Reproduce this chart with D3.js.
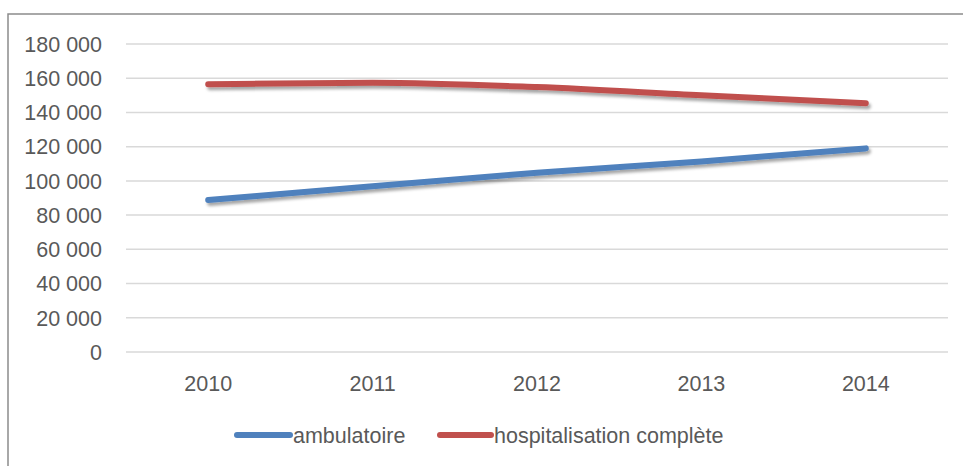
<!DOCTYPE html>
<html><head><meta charset="utf-8">
<script src="https://cdn.jsdelivr.net/npm/d3@7"></script>
<style>
html,body{margin:0;padding:0;background:#fff;}
svg{display:block;}
text{font-family:"Liberation Sans",Arial,sans-serif;fill:#595959;}
</style></head>
<body>
<script>
const years = ["2010","2011","2012","2013","2014"];
const ambulatoire = [88800, 96800, 104800, 111400, 119000];
const hospitalisation = [156500, 157400, 154800, 150000, 145400];
const yTicks = [0,20000,40000,60000,80000,100000,120000,140000,160000,180000];
const seriesNames = ["ambulatoire","hospitalisation complète"];
const seriesColors = ["#4f81bd","#c0504d"];

const W=963,H=466;
const svg=d3.select("body").append("svg").attr("width",W).attr("height",H);
const defs=svg.append("defs");
const f=defs.append("filter").attr("id","sh").attr("x","-10%").attr("y","-50%").attr("width","120%").attr("height","200%");
f.append("feDropShadow").attr("dx",2).attr("dy",3).attr("stdDeviation",1.8).attr("flood-color","#000").attr("flood-opacity",0.35);

// outer border
svg.append("path").attr("d","M8,470 L8,14 L970,14").attr("fill","none").attr("stroke","#8c8c8c").attr("stroke-width",1.5);

const x=d3.scaleBand().domain(years).range([126,948]);
const y=d3.scaleLinear().domain([0,180000]).range([352,44]);
const fmt=v=>d3.format(",")(v).replace(/,/g," ");

// gridlines
svg.append("g").selectAll("line").data(yTicks).join("line")
 .attr("x1",126).attr("x2",948).attr("y1",d=>y(d)).attr("y2",d=>y(d))
 .attr("stroke","#d9d9d9").attr("stroke-width",1.5);

// y labels
svg.append("g").selectAll("text").data(yTicks).join("text")
 .attr("x",102).attr("y",d=>y(d)).attr("dy","0.36em").attr("text-anchor","end")
 .attr("font-size",21.5).text(fmt);

// x labels
svg.append("g").selectAll("text").data(years).join("text")
 .attr("x",d=>x(d)+x.bandwidth()/2).attr("y",391).attr("text-anchor","middle")
 .attr("font-size",21.5).text(d=>d);

const line=d3.line().x((d,i)=>x(years[i])+x.bandwidth()/2).y(d=>y(d)).curve(d3.curveMonotoneX);
[ambulatoire,hospitalisation].forEach((s,i)=>{
 svg.append("path").attr("d",line(s)).attr("fill","none").attr("stroke",seriesColors[i])
  .attr("stroke-width",6).attr("stroke-linecap","round").attr("stroke-linejoin","round").attr("filter","url(#sh)");
});

// legend
const leg=[{x1:237,x2:290,tx:293},{x1:440,x2:491,tx:494}];
leg.forEach((l,i)=>{
 svg.append("line").attr("x1",l.x1).attr("x2",l.x2).attr("y1",435).attr("y2",435)
  .attr("stroke",seriesColors[i]).attr("stroke-width",6).attr("stroke-linecap","round");
 svg.append("text").attr("x",l.tx).attr("y",443).attr("font-size",21.5).text(seriesNames[i]);
});
</script>
</body></html>
